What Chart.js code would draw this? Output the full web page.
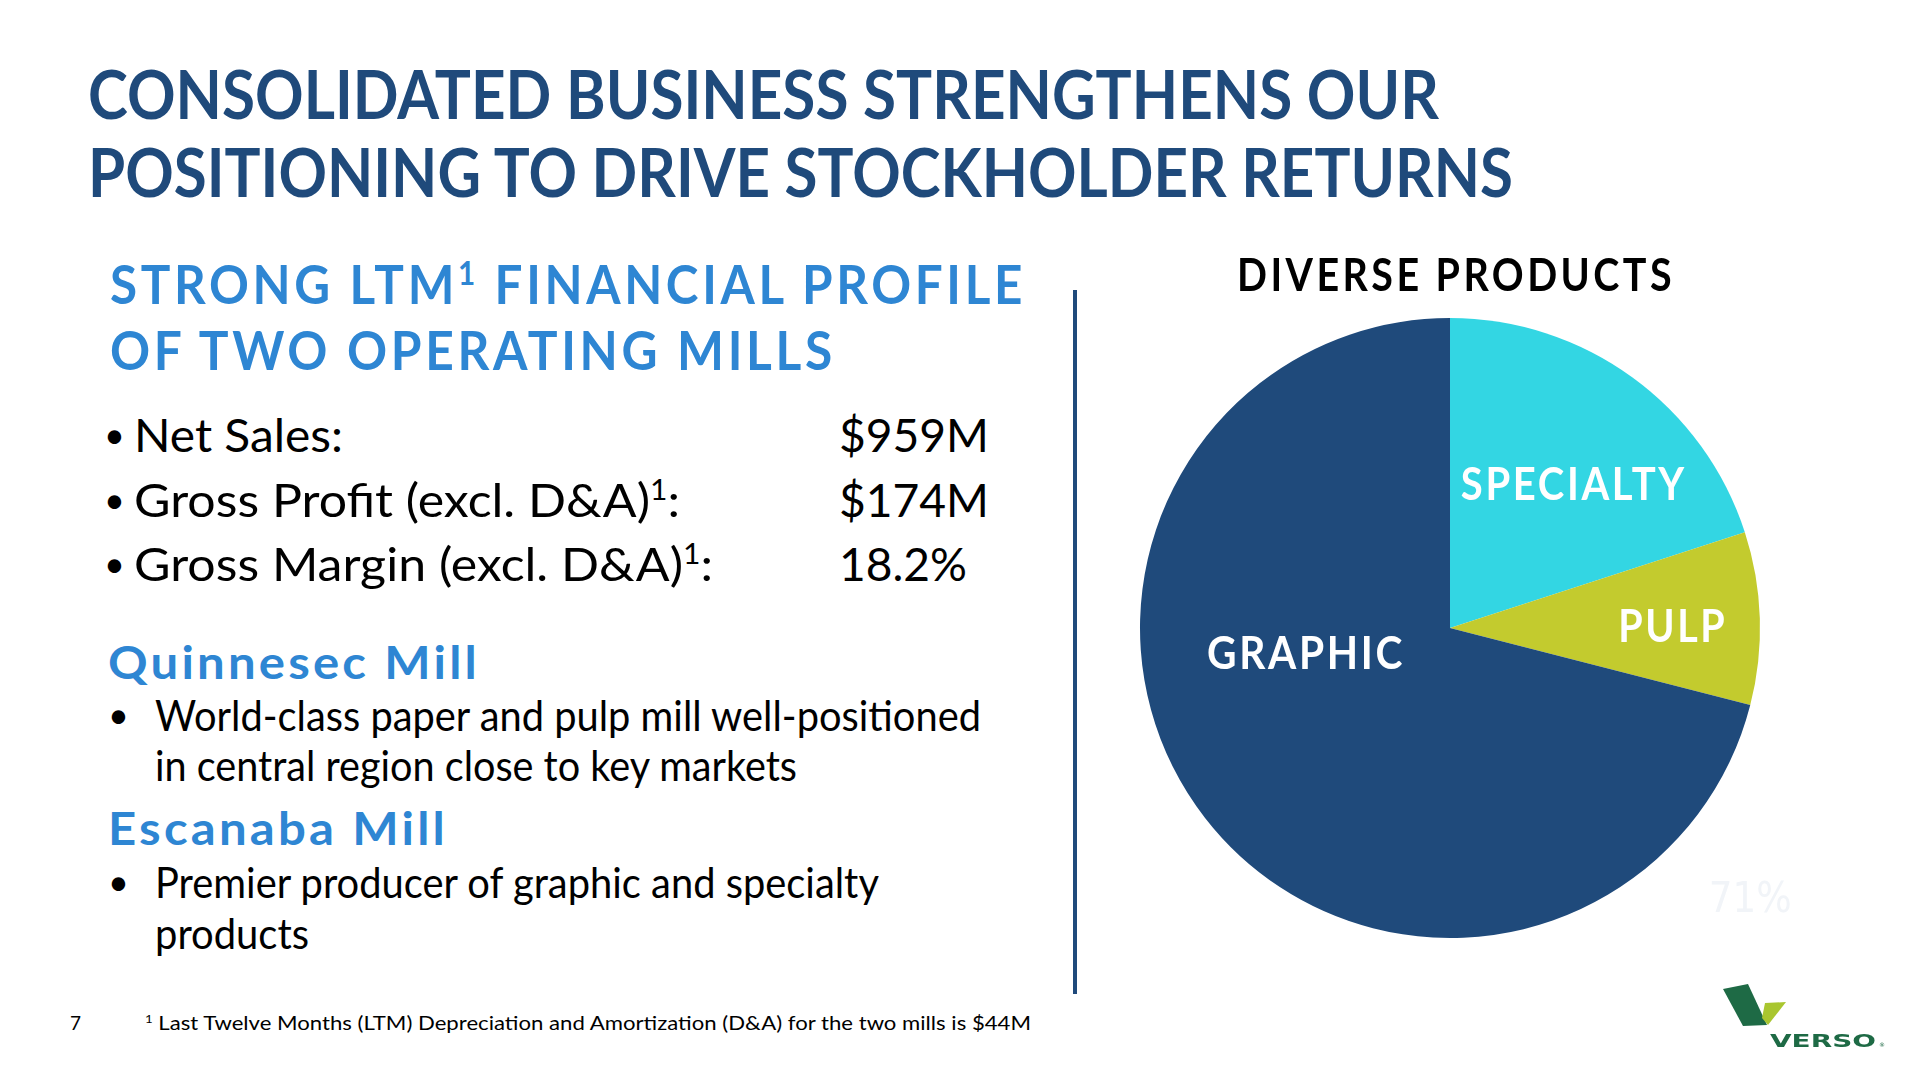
<!DOCTYPE html>
<html>
<head>
<meta charset="utf-8">
<title>Diverse products</title>
<script src="https://cdn.jsdelivr.net/npm/chart.js@4.4.1/dist/chart.umd.min.js"></script>
<style>
    html, body {
        margin: 0;
        padding: 0;
        background: #ffffff;
    }
    body {
        position: relative;
        width: 1920px;
        height: 1080px;
        overflow: hidden;
        font-family: Lato, "Open Sans", sans-serif;
    }
    .t {
        position: absolute;
        white-space: nowrap;
        transform-origin: 0 0;
        line-height: 1.2;
        z-index: 2;
    }
    .t sup {
        font-size: 0.6em;
        vertical-align: 0.6em;
        line-height: 0;
    }
    .title { font-weight: 700; font-size: 67px; color: #1f4a7b; }
    .sub { font-weight: 700; font-size: 54px; color: #2e86d3; letter-spacing: 4px; }
    .body { font-size: 47px; color: #000; }
    .dot { font-size: 36px; color: #000; }
    .mill { font-weight: 700; font-size: 46px; color: #2e86d3; letter-spacing: 3px; }
    .desc { font-size: 43px; color: #000; }
    .foot { font-size: 19px; color: #000; }
    .head { font-weight: 700; font-size: 46px; color: #000; letter-spacing: 4px; }
    #divider {
        position: absolute;
        left: 1073px;
        top: 290px;
        width: 4px;
        height: 704px;
        background: #1f4a7b;
    }
    #pieBox {
        position: absolute;
        left: 1040px;
        top: 218px;
        width: 820px;
        height: 820px;
        z-index: 1;
    }
    #logo {
        position: absolute;
        left: 0;
        top: 0;
        z-index: 2;
    }
</style>
</head>
<body>

<div class="t title" data-x="88" data-b="119" data-w="1351">CONSOLIDATED BUSINESS STRENGTHENS OUR</div>
<div class="t title" data-x="88" data-b="197" data-w="1425">POSITIONING TO DRIVE STOCKHOLDER RETURNS</div>

<div class="t sub" data-x="110" data-b="304" data-w="916">STRONG LTM<sup>1</sup> FINANCIAL PROFILE</div>
<div class="t sub" data-x="110" data-b="370" data-w="726">OF TWO OPERATING MILLS</div>

<div class="t dot" data-x="104" data-b="448">•</div>
<div class="t body" data-x="134" data-b="452" data-w="209">Net Sales:</div>
<div class="t body" data-x="839" data-b="452" data-w="150">$959M</div>
<div class="t dot" data-x="104" data-b="513">•</div>
<div class="t body" data-x="134" data-b="517" data-w="546">Gross Profit (excl. D&amp;A)<sup>1</sup>:</div>
<div class="t body" data-x="839" data-b="517" data-w="150">$174M</div>
<div class="t dot" data-x="104" data-b="577">•</div>
<div class="t body" data-x="134" data-b="581" data-w="579">Gross Margin (excl. D&amp;A)<sup>1</sup>:</div>
<div class="t body" data-x="839" data-b="581" data-w="128">18.2%</div>

<div class="t mill" data-x="108" data-b="679" data-w="372">Quinnesec Mill</div>
<div class="t dot" data-x="108" data-b="728">•</div>
<div class="t desc" data-x="155" data-b="731" data-w="826">World-class paper and pulp mill well-positioned</div>
<div class="t desc" data-x="155" data-b="781" data-w="642">in central region close to key markets</div>

<div class="t mill" data-x="108" data-b="845" data-w="340">Escanaba Mill</div>
<div class="t dot" data-x="108" data-b="895">•</div>
<div class="t desc" data-x="155" data-b="898" data-w="724">Premier producer of graphic and specialty</div>
<div class="t desc" data-x="155" data-b="949" data-w="154">products</div>

<div class="t foot" data-x="70" data-b="1030">7</div>
<div class="t foot" data-x="145" data-b="1030" data-w="886"><sup>1</sup> Last Twelve Months (LTM) Depreciation and Amortization (D&amp;A) for the two mills is $44M</div>

<div id="divider"></div>

<div class="t head" data-x="1237" data-b="291" data-w="438">DIVERSE PRODUCTS</div>

<div id="pieBox"><canvas id="productChart"></canvas></div>

<svg id="logo" width="1920" height="1080" viewBox="0 0 1920 1080">
    <polygon points="1723,989 1748,984 1767,1025 1743,1026" fill="#1e6a45"/>
    <polygon points="1765,1003 1786,1002 1768,1025 1762,1018" fill="#a9c62f"/>
    <text x="1770" y="1047" font-family="DejaVu Sans" font-weight="bold" font-size="17"
          fill="#1e6a45" textLength="106" lengthAdjust="spacingAndGlyphs">VERSO</text>
    <text x="1879" y="1047" font-family="DejaVu Sans" font-size="6" fill="#1e6a45">®</text>
</svg>

<script>
// product mix, share of sales (%)
const categories = ['SPECIALTY', 'PULP', 'GRAPHIC'];
const shares = [20, 9, 71];
const sliceColors = ['#33d6e3', '#c3cb2e', '#1f4a7b'];

// where each slice label sits: degrees clockwise from 12 o'clock, fraction of radius, target width
const labelStyle = [
    { deg: 44, frac: 0.575, width: 226 },
    { deg: 93.6, frac: 0.72, width: 109 },
    { deg: 254, frac: 0.483, width: 198 }
];
// faint leftover value label on the big slice
const valueStyle = { index: 2, deg: 133.4, frac: 1.333, width: 83 };

// Put html text on its baseline and squeeze it to the measured width
function placeText(el) {
    const x = +el.dataset.x;
    const base = +el.dataset.b;
    el.style.left = x + 'px';
    el.style.top = '0px';
    const probe = document.createElement('span');
    probe.style.cssText = 'display:inline-block;width:0;height:0;vertical-align:baseline';
    el.appendChild(probe);
    const offset = probe.offsetTop;
    el.removeChild(probe);
    el.style.top = (base - offset) + 'px';
    if (el.dataset.w) {
        const natural = el.getBoundingClientRect().width;
        el.style.transform = `scaleX(${(+el.dataset.w / natural).toFixed(4)})`;
    }
}

document.querySelectorAll('.t').forEach(placeText);

function drawFitted(ctx, text, x, y, width) {
    const natural = ctx.measureText(text).width;
    ctx.save();
    ctx.translate(x, y);
    ctx.scale(width / natural, 1);
    ctx.fillText(text, 0, 0);
    ctx.restore();
}

const sliceLabels = {
    id: 'sliceLabels',
    afterDatasetsDraw(chart) {
        const ctx = chart.ctx;
        const arcs = chart.getDatasetMeta(0).data;
        ctx.save();
        ctx.textAlign = 'center';
        ctx.textBaseline = 'alphabetic';

        ctx.font = 'bold 46px Lato';
        ctx.letterSpacing = '3px';
        ctx.fillStyle = '#ffffff';
        arcs.forEach((arc, i) => {
            const s = labelStyle[i];
            const a = (s.deg - 90) * Math.PI / 180;
            const r = arc.outerRadius * s.frac;
            drawFitted(ctx, categories[i], arc.x + r * Math.cos(a), arc.y + r * Math.sin(a), s.width);
        });

        const arc = arcs[valueStyle.index];
        const a = (valueStyle.deg - 90) * Math.PI / 180;
        const r = arc.outerRadius * valueStyle.frac;
        ctx.font = '42px "DejaVu Sans"';
        ctx.letterSpacing = '0px';
        ctx.fillStyle = '#f1f4f8';
        drawFitted(ctx, shares[valueStyle.index] + '%', arc.x + r * Math.cos(a), arc.y + r * Math.sin(a), valueStyle.width);
        ctx.restore();
    }
};

const ctx = document.getElementById('productChart').getContext('2d');
new Chart(ctx, {
    type: 'pie',
    data: {
        labels: categories,
        datasets: [{
            data: shares,
            backgroundColor: sliceColors,
            borderWidth: 0,
            hoverOffset: 0
        }]
    },
    options: {
        responsive: true,
        maintainAspectRatio: false,
        animation: false,
        layout: {
            padding: 100
        },
        plugins: {
            legend: { display: false },
            tooltip: { enabled: false }
        }
    },
    plugins: [sliceLabels]
});
</script>
</body>
</html>
